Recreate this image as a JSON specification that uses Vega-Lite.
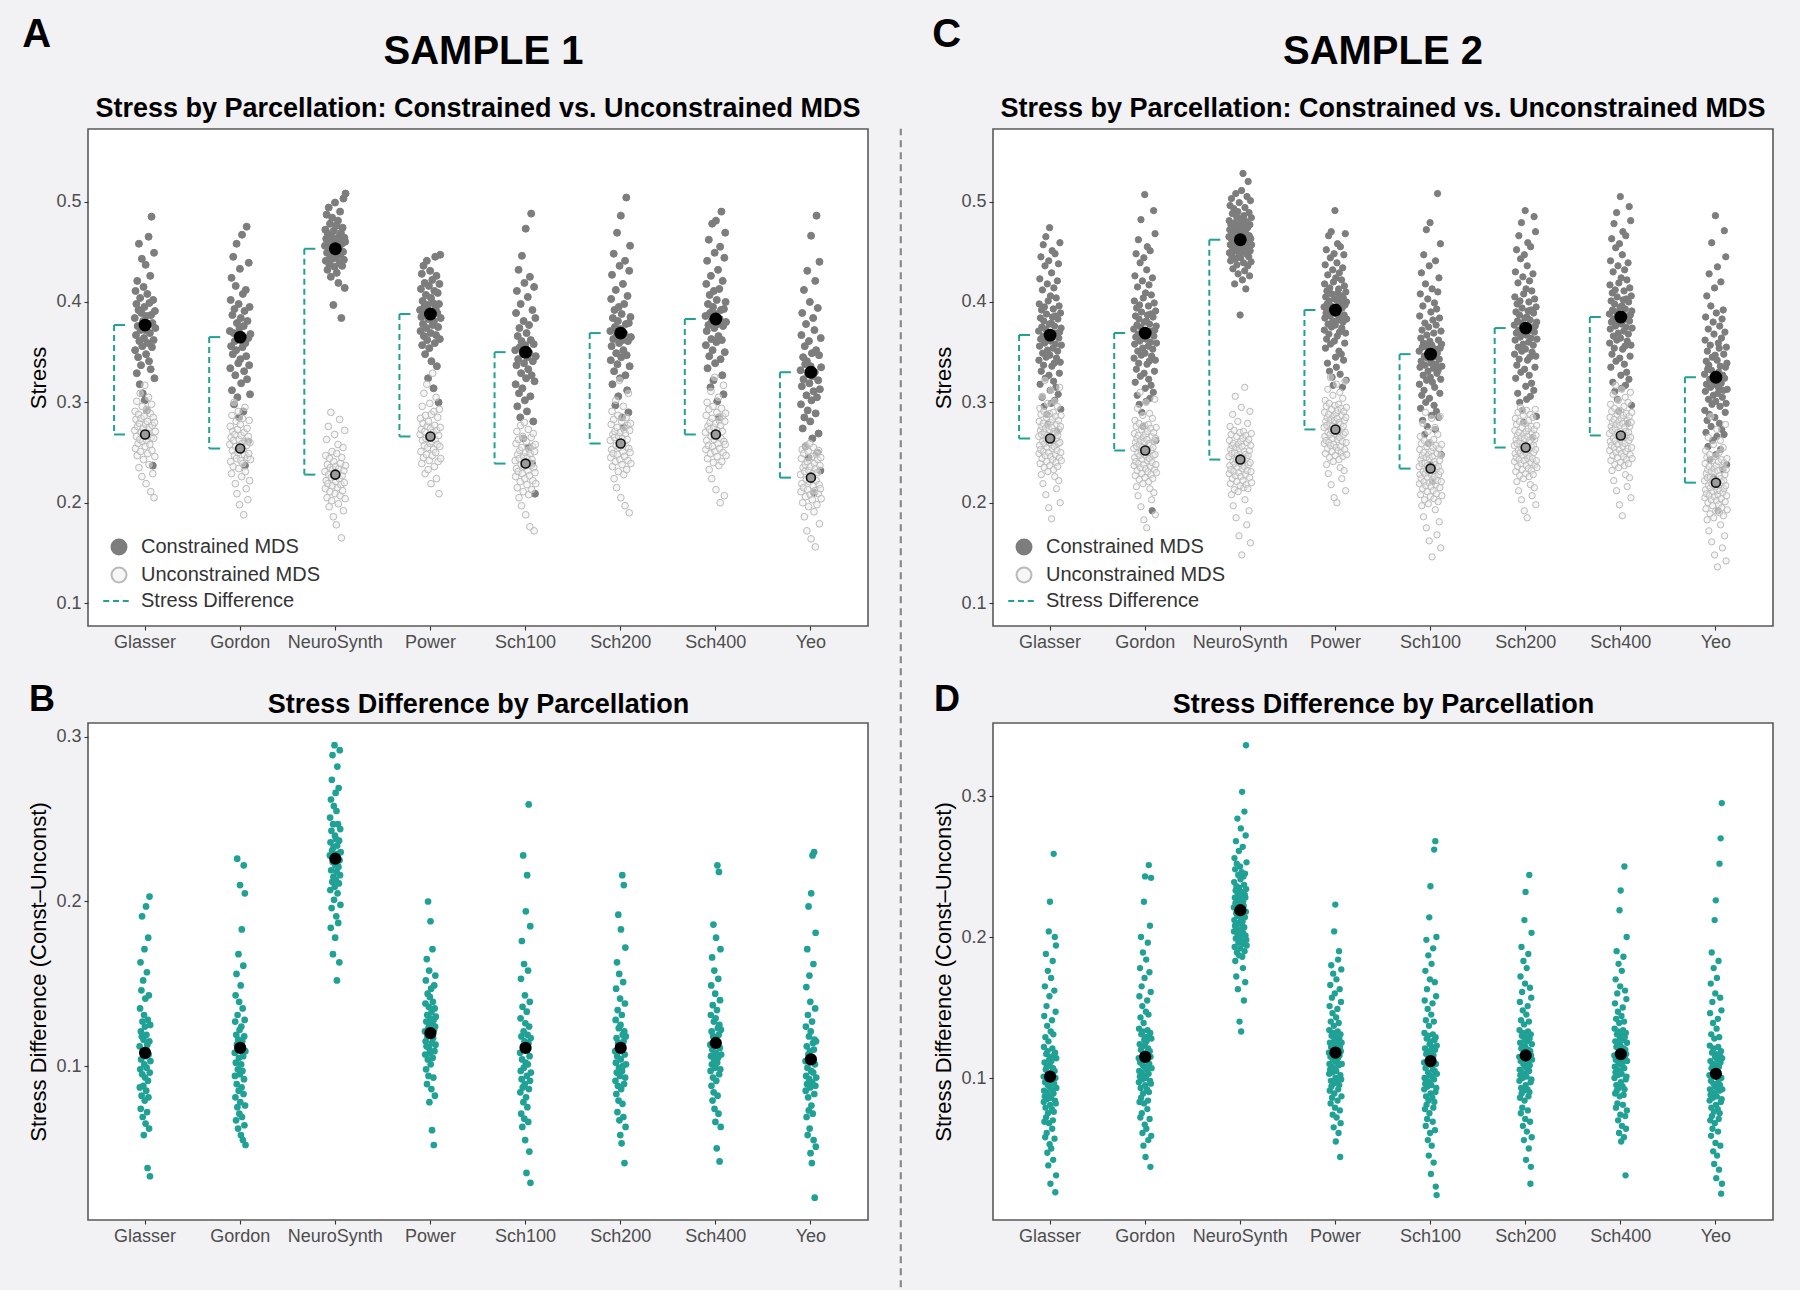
{
"$schema":"https://vega.github.io/schema/vega-lite/v6.json",
"background":"#f2f2f4",
"padding":{"left":22,"top":15,"right":32,"bottom":1},
"spacing":30,
"resolve":{"scale":{"x":"independent","y":"independent","fill":"independent","stroke":"independent","shape":"independent","xOffset":"independent"}},
"datasets":{
"m1":[{"p":"Glasser","mc":0.377,"mu":0.268,"md":0.108},{"p":"Gordon","mc":0.365,"mu":0.254,"md":0.111},{"p":"NeuroSynth","mc":0.453,"mu":0.228,"md":0.226},{"p":"Power","mc":0.388,"mu":0.266,"md":0.12},{"p":"Sch100","mc":0.35,"mu":0.239,"md":0.111},{"p":"Sch200","mc":0.369,"mu":0.259,"md":0.111},{"p":"Sch400","mc":0.383,"mu":0.268,"md":0.114},{"p":"Yeo","mc":0.33,"mu":0.225,"md":0.104}],
"m2":[{"p":"Glasser","mc":0.367,"mu":0.264,"md":0.101},{"p":"Gordon","mc":0.369,"mu":0.252,"md":0.115},{"p":"NeuroSynth","mc":0.462,"mu":0.243,"md":0.219},{"p":"Power","mc":0.392,"mu":0.273,"md":0.118},{"p":"Sch100","mc":0.348,"mu":0.234,"md":0.112},{"p":"Sch200","mc":0.374,"mu":0.255,"md":0.116},{"p":"Sch400","mc":0.385,"mu":0.267,"md":0.117},{"p":"Yeo","mc":0.325,"mu":0.22,"md":0.103}],
"s1":[
{"p":"Glasser","c":0.384,"u":0.272,"d":0.112},{"p":"Glasser","c":0.352,"u":0.291,"d":0.087},{"p":"Glasser","c":0.411,"u":0.254,"d":0.135},{"p":"Glasser","c":0.367,"u":0.283,"d":0.098},{"p":"Glasser","c":0.398,"u":0.266,"d":0.163},{"p":"Glasser","c":0.329,"u":0.301,"d":0.074},{"p":"Glasser","c":0.421,"u":0.247,"d":0.121},{"p":"Glasser","c":0.376,"u":0.276,"d":0.104},{"p":"Glasser","c":0.345,"u":0.259,"d":0.146},{"p":"Glasser","c":0.392,"u":0.288,"d":0.082},
{"p":"Glasser","c":0.458,"u":0.235,"d":0.118},{"p":"Glasser","c":0.361,"u":0.279,"d":0.191},{"p":"Glasser","c":0.318,"u":0.263,"d":0.095},{"p":"Glasser","c":0.404,"u":0.309,"d":0.127},{"p":"Glasser","c":0.372,"u":0.251,"d":0.069},{"p":"Glasser","c":0.337,"u":0.284,"d":0.109},{"p":"Glasser","c":0.389,"u":0.27,"d":0.152},{"p":"Glasser","c":0.443,"u":0.226,"d":0.088},{"p":"Glasser","c":0.356,"u":0.296,"d":0.116},{"p":"Glasser","c":0.309,"u":0.261,"d":0.058},
{"p":"Glasser","c":0.381,"u":0.274,"d":0.131},{"p":"Glasser","c":0.415,"u":0.243,"d":0.101},{"p":"Glasser","c":0.364,"u":0.286,"d":0.171},{"p":"Glasser","c":0.395,"u":0.267,"d":0.079},{"p":"Glasser","c":0.302,"u":0.317,"d":0.124},{"p":"Glasser","c":0.372,"u":0.256,"d":0.093},{"p":"Glasser","c":0.437,"u":0.278,"d":0.141},{"p":"Glasser","c":0.348,"u":0.219,"d":0.065},{"p":"Glasser","c":0.386,"u":0.293,"d":0.106},{"p":"Glasser","c":0.292,"u":0.262,"d":0.197},
{"p":"Glasser","c":0.408,"u":0.281,"d":0.085},{"p":"Glasser","c":0.359,"u":0.249,"d":0.119},{"p":"Glasser","c":0.377,"u":0.269,"d":0.099},{"p":"Glasser","c":0.465,"u":0.305,"d":0.157},{"p":"Glasser","c":0.341,"u":0.238,"d":0.072},{"p":"Glasser","c":0.399,"u":0.275,"d":0.113},{"p":"Glasser","c":0.369,"u":0.258,"d":0.038},{"p":"Glasser","c":0.426,"u":0.289,"d":0.128},{"p":"Glasser","c":0.333,"u":0.211,"d":0.091},{"p":"Glasser","c":0.387,"u":0.265,"d":0.178},
{"p":"Glasser","c":0.485,"u":0.298,"d":0.081},{"p":"Glasser","c":0.355,"u":0.252,"d":0.107},{"p":"Glasser","c":0.379,"u":0.277,"d":0.143},{"p":"Glasser","c":0.237,"u":0.229,"d":0.062},{"p":"Glasser","c":0.402,"u":0.285,"d":0.115},{"p":"Glasser","c":0.362,"u":0.264,"d":0.203},{"p":"Glasser","c":0.449,"u":0.205,"d":0.096},{"p":"Glasser","c":0.324,"u":0.28,"d":0.033},{"p":"Glasser","c":0.391,"u":0.246,"d":0.125},{"p":"Glasser","c":0.374,"u":0.271,"d":0.103},
{"p":"Gordon","c":0.371,"u":0.258,"d":0.108},{"p":"Gordon","c":0.334,"u":0.276,"d":0.094},{"p":"Gordon","c":0.402,"u":0.241,"d":0.127},{"p":"Gordon","c":0.356,"u":0.265,"d":0.081},{"p":"Gordon","c":0.424,"u":0.229,"d":0.143},{"p":"Gordon","c":0.312,"u":0.287,"d":0.102},{"p":"Gordon","c":0.387,"u":0.252,"d":0.067},{"p":"Gordon","c":0.348,"u":0.271,"d":0.119},{"p":"Gordon","c":0.445,"u":0.236,"d":0.156},{"p":"Gordon","c":0.369,"u":0.262,"d":0.089},
{"p":"Gordon","c":0.298,"u":0.3,"d":0.113},{"p":"Gordon","c":0.393,"u":0.247,"d":0.226},{"p":"Gordon","c":0.361,"u":0.268,"d":0.075},{"p":"Gordon","c":0.327,"u":0.219,"d":0.131},{"p":"Gordon","c":0.416,"u":0.256,"d":0.098},{"p":"Gordon","c":0.352,"u":0.281,"d":0.062},{"p":"Gordon","c":0.458,"u":0.244,"d":0.116},{"p":"Gordon","c":0.379,"u":0.209,"d":0.168},{"p":"Gordon","c":0.305,"u":0.273,"d":0.085},{"p":"Gordon","c":0.366,"u":0.25,"d":0.105},
{"p":"Gordon","c":0.339,"u":0.291,"d":0.139},{"p":"Gordon","c":0.398,"u":0.234,"d":0.071},{"p":"Gordon","c":0.285,"u":0.263,"d":0.122},{"p":"Gordon","c":0.374,"u":0.198,"d":0.095},{"p":"Gordon","c":0.433,"u":0.255,"d":0.21},{"p":"Gordon","c":0.343,"u":0.278,"d":0.078},{"p":"Gordon","c":0.384,"u":0.242,"d":0.111},{"p":"Gordon","c":0.319,"u":0.267,"d":0.149},{"p":"Gordon","c":0.362,"u":0.226,"d":0.058},{"p":"Gordon","c":0.467,"u":0.259,"d":0.101},
{"p":"Gordon","c":0.355,"u":0.284,"d":0.124},{"p":"Gordon","c":0.408,"u":0.239,"d":0.087},{"p":"Gordon","c":0.291,"u":0.253,"d":0.183},{"p":"Gordon","c":0.376,"u":0.188,"d":0.069},{"p":"Gordon","c":0.331,"u":0.27,"d":0.115},{"p":"Gordon","c":0.391,"u":0.248,"d":0.097},{"p":"Gordon","c":0.237,"u":0.295,"d":0.135},{"p":"Gordon","c":0.359,"u":0.231,"d":0.055},{"p":"Gordon","c":0.412,"u":0.261,"d":0.106},{"p":"Gordon","c":0.346,"u":0.214,"d":0.161},
{"p":"Gordon","c":0.475,"u":0.257,"d":0.083},{"p":"Gordon","c":0.323,"u":0.274,"d":0.222},{"p":"Gordon","c":0.381,"u":0.245,"d":0.092},{"p":"Gordon","c":0.261,"u":0.203,"d":0.118},{"p":"Gordon","c":0.364,"u":0.266,"d":0.064},{"p":"Gordon","c":0.439,"u":0.249,"d":0.128},{"p":"Gordon","c":0.337,"u":0.282,"d":0.205},{"p":"Gordon","c":0.395,"u":0.222,"d":0.076},{"p":"Gordon","c":0.308,"u":0.26,"d":0.109},{"p":"Gordon","c":0.368,"u":0.243,"d":0.052},
{"p":"NeuroSynth","c":0.456,"u":0.231,"d":0.228},{"p":"NeuroSynth","c":0.472,"u":0.214,"d":0.251},{"p":"NeuroSynth","c":0.441,"u":0.247,"d":0.207},{"p":"NeuroSynth","c":0.463,"u":0.222,"d":0.236},{"p":"NeuroSynth","c":0.487,"u":0.263,"d":0.184},{"p":"NeuroSynth","c":0.449,"u":0.205,"d":0.262},{"p":"NeuroSynth","c":0.432,"u":0.238,"d":0.219},{"p":"NeuroSynth","c":0.468,"u":0.219,"d":0.243},{"p":"NeuroSynth","c":0.455,"u":0.276,"d":0.196},{"p":"NeuroSynth","c":0.494,"u":0.228,"d":0.274},
{"p":"NeuroSynth","c":0.438,"u":0.196,"d":0.231},{"p":"NeuroSynth","c":0.461,"u":0.244,"d":0.212},{"p":"NeuroSynth","c":0.478,"u":0.211,"d":0.289},{"p":"NeuroSynth","c":0.446,"u":0.235,"d":0.224},{"p":"NeuroSynth","c":0.425,"u":0.29,"d":0.168},{"p":"NeuroSynth","c":0.466,"u":0.225,"d":0.247},{"p":"NeuroSynth","c":0.452,"u":0.202,"d":0.215},{"p":"NeuroSynth","c":0.484,"u":0.251,"d":0.233},{"p":"NeuroSynth","c":0.443,"u":0.217,"d":0.258},{"p":"NeuroSynth","c":0.459,"u":0.233,"d":0.201},
{"p":"NeuroSynth","c":0.397,"u":0.186,"d":0.227},{"p":"NeuroSynth","c":0.471,"u":0.241,"d":0.295},{"p":"NeuroSynth","c":0.448,"u":0.226,"d":0.209},{"p":"NeuroSynth","c":0.435,"u":0.268,"d":0.24},{"p":"NeuroSynth","c":0.499,"u":0.209,"d":0.178},{"p":"NeuroSynth","c":0.457,"u":0.236,"d":0.222},{"p":"NeuroSynth","c":0.444,"u":0.221,"d":0.266},{"p":"NeuroSynth","c":0.476,"u":0.178,"d":0.213},{"p":"NeuroSynth","c":0.429,"u":0.249,"d":0.238},{"p":"NeuroSynth","c":0.462,"u":0.229,"d":0.191},
{"p":"NeuroSynth","c":0.451,"u":0.215,"d":0.255},{"p":"NeuroSynth","c":0.481,"u":0.258,"d":0.218},{"p":"NeuroSynth","c":0.419,"u":0.199,"d":0.152},{"p":"NeuroSynth","c":0.465,"u":0.234,"d":0.234},{"p":"NeuroSynth","c":0.453,"u":0.224,"d":0.282},{"p":"NeuroSynth","c":0.439,"u":0.283,"d":0.205},{"p":"NeuroSynth","c":0.49,"u":0.207,"d":0.229},{"p":"NeuroSynth","c":0.447,"u":0.239,"d":0.247},{"p":"NeuroSynth","c":0.469,"u":0.218,"d":0.187},{"p":"NeuroSynth","c":0.384,"u":0.165,"d":0.221},
{"p":"NeuroSynth","c":0.458,"u":0.245,"d":0.269},{"p":"NeuroSynth","c":0.436,"u":0.227,"d":0.211},{"p":"NeuroSynth","c":0.474,"u":0.212,"d":0.237},{"p":"NeuroSynth","c":0.45,"u":0.255,"d":0.163},{"p":"NeuroSynth","c":0.503,"u":0.192,"d":0.225},{"p":"NeuroSynth","c":0.442,"u":0.232,"d":0.292},{"p":"NeuroSynth","c":0.464,"u":0.22,"d":0.216},{"p":"NeuroSynth","c":0.414,"u":0.272,"d":0.244},{"p":"NeuroSynth","c":0.46,"u":0.204,"d":0.198},{"p":"NeuroSynth","c":0.508,"u":0.237,"d":0.23},
{"p":"Power","c":0.392,"u":0.268,"d":0.121},{"p":"Power","c":0.371,"u":0.284,"d":0.107},{"p":"Power","c":0.413,"u":0.251,"d":0.138},{"p":"Power","c":0.385,"u":0.273,"d":0.115},{"p":"Power","c":0.428,"u":0.239,"d":0.152},{"p":"Power","c":0.357,"u":0.296,"d":0.098},{"p":"Power","c":0.401,"u":0.262,"d":0.127},{"p":"Power","c":0.378,"u":0.279,"d":0.112},{"p":"Power","c":0.436,"u":0.245,"d":0.165},{"p":"Power","c":0.366,"u":0.309,"d":0.089},
{"p":"Power","c":0.395,"u":0.257,"d":0.131},{"p":"Power","c":0.419,"u":0.271,"d":0.118},{"p":"Power","c":0.348,"u":0.229,"d":0.144},{"p":"Power","c":0.388,"u":0.287,"d":0.104},{"p":"Power","c":0.407,"u":0.264,"d":0.2},{"p":"Power","c":0.374,"u":0.248,"d":0.123},{"p":"Power","c":0.441,"u":0.318,"d":0.094},{"p":"Power","c":0.362,"u":0.276,"d":0.136},{"p":"Power","c":0.397,"u":0.255,"d":0.111},{"p":"Power","c":0.324,"u":0.233,"d":0.158},
{"p":"Power","c":0.383,"u":0.281,"d":0.078},{"p":"Power","c":0.416,"u":0.266,"d":0.125},{"p":"Power","c":0.354,"u":0.242,"d":0.142},{"p":"Power","c":0.39,"u":0.299,"d":0.108},{"p":"Power","c":0.431,"u":0.259,"d":0.129},{"p":"Power","c":0.369,"u":0.274,"d":0.188},{"p":"Power","c":0.404,"u":0.219,"d":0.101},{"p":"Power","c":0.341,"u":0.288,"d":0.119},{"p":"Power","c":0.386,"u":0.261,"d":0.147},{"p":"Power","c":0.422,"u":0.247,"d":0.086},
{"p":"Power","c":0.377,"u":0.329,"d":0.133},{"p":"Power","c":0.399,"u":0.27,"d":0.114},{"p":"Power","c":0.314,"u":0.253,"d":0.061},{"p":"Power","c":0.381,"u":0.291,"d":0.126},{"p":"Power","c":0.411,"u":0.236,"d":0.171},{"p":"Power","c":0.359,"u":0.277,"d":0.105},{"p":"Power","c":0.445,"u":0.263,"d":0.139},{"p":"Power","c":0.393,"u":0.25,"d":0.117},{"p":"Power","c":0.367,"u":0.305,"d":0.093},{"p":"Power","c":0.426,"u":0.224,"d":0.128},
{"p":"Power","c":0.336,"u":0.272,"d":0.052},{"p":"Power","c":0.389,"u":0.258,"d":0.122},{"p":"Power","c":0.409,"u":0.285,"d":0.149},{"p":"Power","c":0.375,"u":0.241,"d":0.109},{"p":"Power","c":0.3,"u":0.267,"d":0.135},{"p":"Power","c":0.398,"u":0.209,"d":0.082},{"p":"Power","c":0.418,"u":0.293,"d":0.124},{"p":"Power","c":0.363,"u":0.256,"d":0.155},{"p":"Power","c":0.447,"u":0.275,"d":0.113},{"p":"Power","c":0.384,"u":0.244,"d":0.13},
{"p":"Sch100","c":0.352,"u":0.242,"d":0.108},{"p":"Sch100","c":0.318,"u":0.226,"d":0.084},{"p":"Sch100","c":0.389,"u":0.259,"d":0.129},{"p":"Sch100","c":0.337,"u":0.234,"d":0.097},{"p":"Sch100","c":0.411,"u":0.271,"d":0.153},{"p":"Sch100","c":0.296,"u":0.215,"d":0.071},{"p":"Sch100","c":0.366,"u":0.248,"d":0.118},{"p":"Sch100","c":0.343,"u":0.231,"d":0.092},{"p":"Sch100","c":0.432,"u":0.263,"d":0.176},{"p":"Sch100","c":0.309,"u":0.205,"d":0.104},
{"p":"Sch100","c":0.374,"u":0.244,"d":0.063},{"p":"Sch100","c":0.355,"u":0.252,"d":0.136},{"p":"Sch100","c":0.285,"u":0.221,"d":0.087},{"p":"Sch100","c":0.398,"u":0.277,"d":0.112},{"p":"Sch100","c":0.329,"u":0.238,"d":0.228},{"p":"Sch100","c":0.361,"u":0.197,"d":0.078},{"p":"Sch100","c":0.446,"u":0.255,"d":0.121},{"p":"Sch100","c":0.314,"u":0.229,"d":0.099},{"p":"Sch100","c":0.348,"u":0.266,"d":0.162},{"p":"Sch100","c":0.264,"u":0.211,"d":0.068},
{"p":"Sch100","c":0.381,"u":0.246,"d":0.115},{"p":"Sch100","c":0.339,"u":0.236,"d":0.089},{"p":"Sch100","c":0.419,"u":0.28,"d":0.143},{"p":"Sch100","c":0.302,"u":0.224,"d":0.055},{"p":"Sch100","c":0.357,"u":0.25,"d":0.126},{"p":"Sch100","c":0.473,"u":0.188,"d":0.102},{"p":"Sch100","c":0.324,"u":0.24,"d":0.194},{"p":"Sch100","c":0.369,"u":0.261,"d":0.081},{"p":"Sch100","c":0.291,"u":0.218,"d":0.11},{"p":"Sch100","c":0.345,"u":0.245,"d":0.035},
{"p":"Sch100","c":0.405,"u":0.232,"d":0.133},{"p":"Sch100","c":0.333,"u":0.273,"d":0.094},{"p":"Sch100","c":0.255,"u":0.208,"d":0.216},{"p":"Sch100","c":0.377,"u":0.253,"d":0.075},{"p":"Sch100","c":0.349,"u":0.227,"d":0.119},{"p":"Sch100","c":0.425,"u":0.176,"d":0.101},{"p":"Sch100","c":0.306,"u":0.249,"d":0.158},{"p":"Sch100","c":0.362,"u":0.237,"d":0.066},{"p":"Sch100","c":0.488,"u":0.265,"d":0.114},{"p":"Sch100","c":0.327,"u":0.213,"d":0.259},
{"p":"Sch100","c":0.239,"u":0.243,"d":0.086},{"p":"Sch100","c":0.392,"u":0.256,"d":0.124},{"p":"Sch100","c":0.341,"u":0.222,"d":0.048},{"p":"Sch100","c":0.281,"u":0.269,"d":0.106},{"p":"Sch100","c":0.358,"u":0.235,"d":0.139},{"p":"Sch100","c":0.415,"u":0.172,"d":0.091},{"p":"Sch100","c":0.321,"u":0.251,"d":0.185},{"p":"Sch100","c":0.209,"u":0.23,"d":0.029},{"p":"Sch100","c":0.384,"u":0.258,"d":0.117},{"p":"Sch100","c":0.346,"u":0.219,"d":0.096},
{"p":"Sch200","c":0.371,"u":0.262,"d":0.109},{"p":"Sch200","c":0.342,"u":0.245,"d":0.091},{"p":"Sch200","c":0.403,"u":0.278,"d":0.128},{"p":"Sch200","c":0.356,"u":0.253,"d":0.102},{"p":"Sch200","c":0.427,"u":0.291,"d":0.147},{"p":"Sch200","c":0.318,"u":0.236,"d":0.083},{"p":"Sch200","c":0.384,"u":0.268,"d":0.117},{"p":"Sch200","c":0.363,"u":0.249,"d":0.096},{"p":"Sch200","c":0.448,"u":0.283,"d":0.163},{"p":"Sch200","c":0.331,"u":0.224,"d":0.106},
{"p":"Sch200","c":0.392,"u":0.265,"d":0.072},{"p":"Sch200","c":0.375,"u":0.271,"d":0.134},{"p":"Sch200","c":0.297,"u":0.241,"d":0.088},{"p":"Sch200","c":0.412,"u":0.302,"d":0.114},{"p":"Sch200","c":0.349,"u":0.257,"d":0.192},{"p":"Sch200","c":0.366,"u":0.215,"d":0.079},{"p":"Sch200","c":0.469,"u":0.275,"d":0.123},{"p":"Sch200","c":0.338,"u":0.248,"d":0.099},{"p":"Sch200","c":0.381,"u":0.287,"d":0.156},{"p":"Sch200","c":0.306,"u":0.231,"d":0.067},
{"p":"Sch200","c":0.395,"u":0.266,"d":0.112},{"p":"Sch200","c":0.359,"u":0.255,"d":0.094},{"p":"Sch200","c":0.436,"u":0.322,"d":0.141},{"p":"Sch200","c":0.324,"u":0.243,"d":0.058},{"p":"Sch200","c":0.373,"u":0.27,"d":0.125},{"p":"Sch200","c":0.486,"u":0.205,"d":0.104},{"p":"Sch200","c":0.345,"u":0.259,"d":0.183},{"p":"Sch200","c":0.388,"u":0.281,"d":0.086},{"p":"Sch200","c":0.285,"u":0.238,"d":0.11},{"p":"Sch200","c":0.362,"u":0.264,"d":0.053},
{"p":"Sch200","c":0.418,"u":0.251,"d":0.131},{"p":"Sch200","c":0.352,"u":0.296,"d":0.097},{"p":"Sch200","c":0.275,"u":0.228,"d":0.216},{"p":"Sch200","c":0.398,"u":0.273,"d":0.077},{"p":"Sch200","c":0.368,"u":0.246,"d":0.119},{"p":"Sch200","c":0.441,"u":0.197,"d":0.1},{"p":"Sch200","c":0.327,"u":0.269,"d":0.151},{"p":"Sch200","c":0.378,"u":0.256,"d":0.069},{"p":"Sch200","c":0.504,"u":0.285,"d":0.115},{"p":"Sch200","c":0.347,"u":0.233,"d":0.21},
{"p":"Sch200","c":0.312,"u":0.263,"d":0.089},{"p":"Sch200","c":0.406,"u":0.277,"d":0.121},{"p":"Sch200","c":0.361,"u":0.242,"d":0.041},{"p":"Sch200","c":0.29,"u":0.309,"d":0.107},{"p":"Sch200","c":0.379,"u":0.254,"d":0.138},{"p":"Sch200","c":0.431,"u":0.19,"d":0.093},{"p":"Sch200","c":0.336,"u":0.272,"d":0.172},{"p":"Sch200","c":0.456,"u":0.25,"d":0.063},{"p":"Sch200","c":0.385,"u":0.279,"d":0.118},{"p":"Sch200","c":0.365,"u":0.239,"d":0.101},
{"p":"Sch400","c":0.386,"u":0.27,"d":0.113},{"p":"Sch400","c":0.357,"u":0.253,"d":0.097},{"p":"Sch400","c":0.418,"u":0.287,"d":0.131},{"p":"Sch400","c":0.371,"u":0.262,"d":0.106},{"p":"Sch400","c":0.441,"u":0.3,"d":0.149},{"p":"Sch400","c":0.334,"u":0.244,"d":0.088},{"p":"Sch400","c":0.398,"u":0.276,"d":0.121},{"p":"Sch400","c":0.377,"u":0.257,"d":0.101},{"p":"Sch400","c":0.462,"u":0.293,"d":0.166},{"p":"Sch400","c":0.346,"u":0.233,"d":0.11},
{"p":"Sch400","c":0.407,"u":0.273,"d":0.079},{"p":"Sch400","c":0.389,"u":0.28,"d":0.137},{"p":"Sch400","c":0.315,"u":0.249,"d":0.093},{"p":"Sch400","c":0.426,"u":0.311,"d":0.118},{"p":"Sch400","c":0.363,"u":0.266,"d":0.186},{"p":"Sch400","c":0.381,"u":0.224,"d":0.084},{"p":"Sch400","c":0.478,"u":0.284,"d":0.127},{"p":"Sch400","c":0.352,"u":0.256,"d":0.104},{"p":"Sch400","c":0.395,"u":0.296,"d":0.158},{"p":"Sch400","c":0.322,"u":0.24,"d":0.074},
{"p":"Sch400","c":0.411,"u":0.275,"d":0.116},{"p":"Sch400","c":0.374,"u":0.263,"d":0.099},{"p":"Sch400","c":0.449,"u":0.325,"d":0.144},{"p":"Sch400","c":0.339,"u":0.251,"d":0.066},{"p":"Sch400","c":0.388,"u":0.279,"d":0.129},{"p":"Sch400","c":0.481,"u":0.213,"d":0.108},{"p":"Sch400","c":0.36,"u":0.268,"d":0.178},{"p":"Sch400","c":0.402,"u":0.29,"d":0.091},{"p":"Sch400","c":0.301,"u":0.246,"d":0.115},{"p":"Sch400","c":0.378,"u":0.272,"d":0.05},
{"p":"Sch400","c":0.432,"u":0.259,"d":0.134},{"p":"Sch400","c":0.366,"u":0.305,"d":0.102},{"p":"Sch400","c":0.285,"u":0.237,"d":0.222},{"p":"Sch400","c":0.413,"u":0.282,"d":0.082},{"p":"Sch400","c":0.383,"u":0.254,"d":0.123},{"p":"Sch400","c":0.455,"u":0.2,"d":0.105},{"p":"Sch400","c":0.343,"u":0.277,"d":0.153},{"p":"Sch400","c":0.392,"u":0.264,"d":0.071},{"p":"Sch400","c":0.49,"u":0.294,"d":0.119},{"p":"Sch400","c":0.362,"u":0.241,"d":0.218},
{"p":"Sch400","c":0.327,"u":0.271,"d":0.095},{"p":"Sch400","c":0.421,"u":0.286,"d":0.125},{"p":"Sch400","c":0.376,"u":0.25,"d":0.042},{"p":"Sch400","c":0.308,"u":0.317,"d":0.111},{"p":"Sch400","c":0.393,"u":0.261,"d":0.14},{"p":"Sch400","c":0.444,"u":0.207,"d":0.098},{"p":"Sch400","c":0.35,"u":0.281,"d":0.171},{"p":"Sch400","c":0.469,"u":0.258,"d":0.063},{"p":"Sch400","c":0.4,"u":0.289,"d":0.122},{"p":"Sch400","c":0.38,"u":0.247,"d":0.107},
{"p":"Yeo","c":0.332,"u":0.228,"d":0.103},{"p":"Yeo","c":0.298,"u":0.211,"d":0.085},{"p":"Yeo","c":0.367,"u":0.244,"d":0.124},{"p":"Yeo","c":0.316,"u":0.219,"d":0.094},{"p":"Yeo","c":0.389,"u":0.253,"d":0.148},{"p":"Yeo","c":0.274,"u":0.2,"d":0.069},{"p":"Yeo","c":0.345,"u":0.235,"d":0.112},{"p":"Yeo","c":0.323,"u":0.215,"d":0.089},{"p":"Yeo","c":0.412,"u":0.249,"d":0.171},{"p":"Yeo","c":0.285,"u":0.186,"d":0.099},
{"p":"Yeo","c":0.356,"u":0.231,"d":0.058},{"p":"Yeo","c":0.338,"u":0.238,"d":0.131},{"p":"Yeo","c":0.256,"u":0.206,"d":0.081},{"p":"Yeo","c":0.378,"u":0.257,"d":0.107},{"p":"Yeo","c":0.307,"u":0.223,"d":0.197},{"p":"Yeo","c":0.341,"u":0.172,"d":0.073},{"p":"Yeo","c":0.431,"u":0.241,"d":0.118},{"p":"Yeo","c":0.292,"u":0.213,"d":0.092},{"p":"Yeo","c":0.328,"u":0.251,"d":0.155},{"p":"Yeo","c":0.245,"u":0.196,"d":0.062},
{"p":"Yeo","c":0.361,"u":0.232,"d":0.109},{"p":"Yeo","c":0.319,"u":0.221,"d":0.087},{"p":"Yeo","c":0.4,"u":0.259,"d":0.139},{"p":"Yeo","c":0.281,"u":0.208,"d":0.047},{"p":"Yeo","c":0.336,"u":0.236,"d":0.121},{"p":"Yeo","c":0.466,"u":0.164,"d":0.097},{"p":"Yeo","c":0.302,"u":0.226,"d":0.205},{"p":"Yeo","c":0.349,"u":0.246,"d":0.076},{"p":"Yeo","c":0.264,"u":0.203,"d":0.105},{"p":"Yeo","c":0.326,"u":0.229,"d":0.041},
{"p":"Yeo","c":0.384,"u":0.217,"d":0.127},{"p":"Yeo","c":0.311,"u":0.255,"d":0.09},{"p":"Yeo","c":0.21,"u":0.191,"d":0.228},{"p":"Yeo","c":0.372,"u":0.239,"d":0.071},{"p":"Yeo","c":0.33,"u":0.212,"d":0.114},{"p":"Yeo","c":0.421,"u":0.156,"d":0.096},{"p":"Yeo","c":0.289,"u":0.234,"d":0.162},{"p":"Yeo","c":0.352,"u":0.222,"d":0.055},{"p":"Yeo","c":0.486,"u":0.248,"d":0.11},{"p":"Yeo","c":0.305,"u":0.198,"d":0.23},
{"p":"Yeo","c":0.25,"u":0.23,"d":0.083},{"p":"Yeo","c":0.394,"u":0.243,"d":0.116},{"p":"Yeo","c":0.322,"u":0.209,"d":0.02},{"p":"Yeo","c":0.269,"u":0.252,"d":0.101},{"p":"Yeo","c":0.347,"u":0.218,"d":0.135},{"p":"Yeo","c":0.44,"u":0.179,"d":0.088},{"p":"Yeo","c":0.313,"u":0.237,"d":0.181},{"p":"Yeo","c":0.232,"u":0.214,"d":0.051},{"p":"Yeo","c":0.364,"u":0.245,"d":0.115},{"p":"Yeo","c":0.335,"u":0.204,"d":0.093}
],
"s2":[
{"p":"Glasser","c":0.371,"u":0.266,"d":0.101},{"p":"Glasser","c":0.342,"u":0.249,"d":0.083},{"p":"Glasser","c":0.398,"u":0.281,"d":0.122},{"p":"Glasser","c":0.356,"u":0.257,"d":0.091},{"p":"Glasser","c":0.423,"u":0.294,"d":0.144},{"p":"Glasser","c":0.318,"u":0.239,"d":0.069},{"p":"Glasser","c":0.384,"u":0.272,"d":0.111},{"p":"Glasser","c":0.363,"u":0.253,"d":0.087},{"p":"Glasser","c":0.445,"u":0.288,"d":0.165},{"p":"Glasser","c":0.331,"u":0.228,"d":0.097},
{"p":"Glasser","c":0.392,"u":0.268,"d":0.058},{"p":"Glasser","c":0.375,"u":0.276,"d":0.129},{"p":"Glasser","c":0.305,"u":0.244,"d":0.079},{"p":"Glasser","c":0.412,"u":0.306,"d":0.106},{"p":"Glasser","c":0.349,"u":0.261,"d":0.188},{"p":"Glasser","c":0.366,"u":0.219,"d":0.072},{"p":"Glasser","c":0.457,"u":0.279,"d":0.117},{"p":"Glasser","c":0.337,"u":0.251,"d":0.09},{"p":"Glasser","c":0.381,"u":0.291,"d":0.151},{"p":"Glasser","c":0.296,"u":0.235,"d":0.061},
{"p":"Glasser","c":0.395,"u":0.27,"d":0.108},{"p":"Glasser","c":0.359,"u":0.259,"d":0.085},{"p":"Glasser","c":0.436,"u":0.322,"d":0.137},{"p":"Glasser","c":0.324,"u":0.247,"d":0.047},{"p":"Glasser","c":0.373,"u":0.274,"d":0.119},{"p":"Glasser","c":0.465,"u":0.208,"d":0.095},{"p":"Glasser","c":0.345,"u":0.263,"d":0.176},{"p":"Glasser","c":0.388,"u":0.285,"d":0.075},{"p":"Glasser","c":0.288,"u":0.241,"d":0.103},{"p":"Glasser","c":0.362,"u":0.267,"d":0.038},
{"p":"Glasser","c":0.418,"u":0.255,"d":0.126},{"p":"Glasser","c":0.352,"u":0.299,"d":0.088},{"p":"Glasser","c":0.278,"u":0.231,"d":0.204},{"p":"Glasser","c":0.401,"u":0.277,"d":0.068},{"p":"Glasser","c":0.368,"u":0.25,"d":0.113},{"p":"Glasser","c":0.441,"u":0.195,"d":0.094},{"p":"Glasser","c":0.327,"u":0.273,"d":0.158},{"p":"Glasser","c":0.378,"u":0.26,"d":0.053},{"p":"Glasser","c":0.474,"u":0.289,"d":0.109},{"p":"Glasser","c":0.347,"u":0.237,"d":0.225},
{"p":"Glasser","c":0.312,"u":0.265,"d":0.081},{"p":"Glasser","c":0.406,"u":0.28,"d":0.115},{"p":"Glasser","c":0.361,"u":0.246,"d":0.025},{"p":"Glasser","c":0.299,"u":0.312,"d":0.099},{"p":"Glasser","c":0.379,"u":0.258,"d":0.133},{"p":"Glasser","c":0.429,"u":0.184,"d":0.086},{"p":"Glasser","c":0.336,"u":0.275,"d":0.171},{"p":"Glasser","c":0.451,"u":0.254,"d":0.05},{"p":"Glasser","c":0.385,"u":0.283,"d":0.112},{"p":"Glasser","c":0.365,"u":0.243,"d":0.092},
{"p":"Glasser","c":0.354,"u":0.262,"d":0.104},{"p":"Glasser","c":0.393,"u":0.29,"d":0.078},{"p":"Glasser","c":0.321,"u":0.233,"d":0.141},{"p":"Glasser","c":0.414,"u":0.271,"d":0.064},{"p":"Glasser","c":0.339,"u":0.256,"d":0.121},{"p":"Glasser","c":0.376,"u":0.301,"d":0.098},{"p":"Glasser","c":0.302,"u":0.226,"d":0.183},{"p":"Glasser","c":0.448,"u":0.269,"d":0.07},{"p":"Glasser","c":0.358,"u":0.248,"d":0.107},{"p":"Glasser","c":0.386,"u":0.286,"d":0.042},
{"p":"Glasser","c":0.315,"u":0.24,"d":0.131},{"p":"Glasser","c":0.404,"u":0.264,"d":0.089},{"p":"Glasser","c":0.344,"u":0.214,"d":0.259},{"p":"Glasser","c":0.369,"u":0.278,"d":0.076},{"p":"Glasser","c":0.271,"u":0.252,"d":0.116},{"p":"Glasser","c":0.421,"u":0.296,"d":0.096},{"p":"Glasser","c":0.351,"u":0.236,"d":0.162},{"p":"Glasser","c":0.383,"u":0.267,"d":0.057},{"p":"Glasser","c":0.308,"u":0.259,"d":0.105},{"p":"Glasser","c":0.438,"u":0.282,"d":0.2},
{"p":"Glasser","c":0.364,"u":0.222,"d":0.084},{"p":"Glasser","c":0.396,"u":0.273,"d":0.118},{"p":"Glasser","c":0.329,"u":0.245,"d":0.019},{"p":"Glasser","c":0.37,"u":0.315,"d":0.1},{"p":"Glasser","c":0.459,"u":0.26,"d":0.147},{"p":"Glasser","c":0.34,"u":0.2,"d":0.082},{"p":"Glasser","c":0.389,"u":0.276,"d":0.194},{"p":"Glasser","c":0.293,"u":0.25,"d":0.031},{"p":"Glasser","c":0.374,"u":0.287,"d":0.114},{"p":"Glasser","c":0.357,"u":0.242,"d":0.093},
{"p":"Gordon","c":0.373,"u":0.254,"d":0.114},{"p":"Gordon","c":0.344,"u":0.237,"d":0.097},{"p":"Gordon","c":0.401,"u":0.269,"d":0.135},{"p":"Gordon","c":0.358,"u":0.245,"d":0.105},{"p":"Gordon","c":0.426,"u":0.282,"d":0.158},{"p":"Gordon","c":0.32,"u":0.227,"d":0.083},{"p":"Gordon","c":0.386,"u":0.26,"d":0.124},{"p":"Gordon","c":0.365,"u":0.241,"d":0.101},{"p":"Gordon","c":0.448,"u":0.276,"d":0.178},{"p":"Gordon","c":0.333,"u":0.216,"d":0.111},
{"p":"Gordon","c":0.394,"u":0.256,"d":0.072},{"p":"Gordon","c":0.377,"u":0.264,"d":0.143},{"p":"Gordon","c":0.307,"u":0.232,"d":0.093},{"p":"Gordon","c":0.415,"u":0.294,"d":0.12},{"p":"Gordon","c":0.351,"u":0.249,"d":0.2},{"p":"Gordon","c":0.368,"u":0.207,"d":0.086},{"p":"Gordon","c":0.462,"u":0.267,"d":0.131},{"p":"Gordon","c":0.339,"u":0.239,"d":0.104},{"p":"Gordon","c":0.383,"u":0.279,"d":0.165},{"p":"Gordon","c":0.298,"u":0.223,"d":0.075},
{"p":"Gordon","c":0.397,"u":0.258,"d":0.122},{"p":"Gordon","c":0.361,"u":0.247,"d":0.099},{"p":"Gordon","c":0.439,"u":0.31,"d":0.151},{"p":"Gordon","c":0.326,"u":0.235,"d":0.061},{"p":"Gordon","c":0.375,"u":0.262,"d":0.133},{"p":"Gordon","c":0.482,"u":0.196,"d":0.109},{"p":"Gordon","c":0.347,"u":0.251,"d":0.189},{"p":"Gordon","c":0.39,"u":0.273,"d":0.089},{"p":"Gordon","c":0.29,"u":0.229,"d":0.117},{"p":"Gordon","c":0.364,"u":0.255,"d":0.052},
{"p":"Gordon","c":0.421,"u":0.243,"d":0.139},{"p":"Gordon","c":0.354,"u":0.287,"d":0.102},{"p":"Gordon","c":0.276,"u":0.219,"d":0.225},{"p":"Gordon","c":0.404,"u":0.265,"d":0.082},{"p":"Gordon","c":0.37,"u":0.238,"d":0.127},{"p":"Gordon","c":0.444,"u":0.183,"d":0.108},{"p":"Gordon","c":0.329,"u":0.261,"d":0.171},{"p":"Gordon","c":0.38,"u":0.248,"d":0.067},{"p":"Gordon","c":0.507,"u":0.277,"d":0.123},{"p":"Gordon","c":0.349,"u":0.225,"d":0.243},
{"p":"Gordon","c":0.314,"u":0.253,"d":0.095},{"p":"Gordon","c":0.409,"u":0.268,"d":0.129},{"p":"Gordon","c":0.363,"u":0.234,"d":0.044},{"p":"Gordon","c":0.301,"u":0.3,"d":0.113},{"p":"Gordon","c":0.381,"u":0.246,"d":0.147},{"p":"Gordon","c":0.432,"u":0.175,"d":0.1},{"p":"Gordon","c":0.338,"u":0.263,"d":0.184},{"p":"Gordon","c":0.455,"u":0.242,"d":0.064},{"p":"Gordon","c":0.387,"u":0.271,"d":0.126},{"p":"Gordon","c":0.367,"u":0.231,"d":0.106},
{"p":"Gordon","c":0.356,"u":0.25,"d":0.118},{"p":"Gordon","c":0.396,"u":0.278,"d":0.092},{"p":"Gordon","c":0.323,"u":0.221,"d":0.155},{"p":"Gordon","c":0.417,"u":0.259,"d":0.078},{"p":"Gordon","c":0.341,"u":0.244,"d":0.134},{"p":"Gordon","c":0.378,"u":0.289,"d":0.112},{"p":"Gordon","c":0.304,"u":0.214,"d":0.196},{"p":"Gordon","c":0.451,"u":0.257,"d":0.084},{"p":"Gordon","c":0.36,"u":0.236,"d":0.121},{"p":"Gordon","c":0.388,"u":0.274,"d":0.056},
{"p":"Gordon","c":0.317,"u":0.228,"d":0.145},{"p":"Gordon","c":0.407,"u":0.252,"d":0.103},{"p":"Gordon","c":0.346,"u":0.203,"d":0.251},{"p":"Gordon","c":0.371,"u":0.266,"d":0.09},{"p":"Gordon","c":0.192,"u":0.24,"d":0.13},{"p":"Gordon","c":0.424,"u":0.284,"d":0.11},{"p":"Gordon","c":0.353,"u":0.224,"d":0.175},{"p":"Gordon","c":0.385,"u":0.255,"d":0.071},{"p":"Gordon","c":0.31,"u":0.247,"d":0.119},{"p":"Gordon","c":0.491,"u":0.27,"d":0.208},
{"p":"Gordon","c":0.366,"u":0.21,"d":0.098},{"p":"Gordon","c":0.399,"u":0.261,"d":0.132},{"p":"Gordon","c":0.331,"u":0.233,"d":0.037},{"p":"Gordon","c":0.372,"u":0.303,"d":0.115},{"p":"Gordon","c":0.468,"u":0.248,"d":0.161},{"p":"Gordon","c":0.342,"u":0.188,"d":0.096},{"p":"Gordon","c":0.391,"u":0.264,"d":0.242},{"p":"Gordon","c":0.262,"u":0.238,"d":0.059},{"p":"Gordon","c":0.376,"u":0.275,"d":0.128},{"p":"Gordon","c":0.359,"u":0.23,"d":0.107},
{"p":"NeuroSynth","c":0.465,"u":0.246,"d":0.221},{"p":"NeuroSynth","c":0.481,"u":0.229,"d":0.204},{"p":"NeuroSynth","c":0.449,"u":0.262,"d":0.239},{"p":"NeuroSynth","c":0.472,"u":0.237,"d":0.212},{"p":"NeuroSynth","c":0.496,"u":0.276,"d":0.256},{"p":"NeuroSynth","c":0.457,"u":0.219,"d":0.193},{"p":"NeuroSynth","c":0.441,"u":0.253,"d":0.228},{"p":"NeuroSynth","c":0.477,"u":0.233,"d":0.208},{"p":"NeuroSynth","c":0.463,"u":0.268,"d":0.248},{"p":"NeuroSynth","c":0.503,"u":0.208,"d":0.183},
{"p":"NeuroSynth","c":0.446,"u":0.249,"d":0.224},{"p":"NeuroSynth","c":0.469,"u":0.257,"d":0.233},{"p":"NeuroSynth","c":0.488,"u":0.224,"d":0.199},{"p":"NeuroSynth","c":0.454,"u":0.288,"d":0.268},{"p":"NeuroSynth","c":0.433,"u":0.241,"d":0.217},{"p":"NeuroSynth","c":0.474,"u":0.197,"d":0.172},{"p":"NeuroSynth","c":0.46,"u":0.259,"d":0.236},{"p":"NeuroSynth","c":0.493,"u":0.231,"d":0.206},{"p":"NeuroSynth","c":0.451,"u":0.272,"d":0.252},{"p":"NeuroSynth","c":0.467,"u":0.213,"d":0.189},
{"p":"NeuroSynth","c":0.418,"u":0.25,"d":0.226},{"p":"NeuroSynth","c":0.479,"u":0.239,"d":0.215},{"p":"NeuroSynth","c":0.456,"u":0.306,"d":0.284},{"p":"NeuroSynth","c":0.443,"u":0.227,"d":0.202},{"p":"NeuroSynth","c":0.508,"u":0.255,"d":0.231},{"p":"NeuroSynth","c":0.466,"u":0.185,"d":0.163},{"p":"NeuroSynth","c":0.452,"u":0.243,"d":0.219},{"p":"NeuroSynth","c":0.485,"u":0.266,"d":0.244},{"p":"NeuroSynth","c":0.437,"u":0.221,"d":0.196},{"p":"NeuroSynth","c":0.47,"u":0.247,"d":0.223},
{"p":"NeuroSynth","c":0.459,"u":0.235,"d":0.21},{"p":"NeuroSynth","c":0.49,"u":0.281,"d":0.261},{"p":"NeuroSynth","c":0.428,"u":0.211,"d":0.187},{"p":"NeuroSynth","c":0.473,"u":0.258,"d":0.235},{"p":"NeuroSynth","c":0.461,"u":0.23,"d":0.205},{"p":"NeuroSynth","c":0.447,"u":0.167,"d":0.14},{"p":"NeuroSynth","c":0.499,"u":0.254,"d":0.229},{"p":"NeuroSynth","c":0.455,"u":0.24,"d":0.216},{"p":"NeuroSynth","c":0.478,"u":0.27,"d":0.25},{"p":"NeuroSynth","c":0.387,"u":0.217,"d":0.192},
{"p":"NeuroSynth","c":0.467,"u":0.245,"d":0.22},{"p":"NeuroSynth","c":0.444,"u":0.261,"d":0.241},{"p":"NeuroSynth","c":0.483,"u":0.226,"d":0.2},{"p":"NeuroSynth","c":0.458,"u":0.295,"d":0.277},{"p":"NeuroSynth","c":0.511,"u":0.238,"d":0.213},{"p":"NeuroSynth","c":0.45,"u":0.148,"d":0.133},{"p":"NeuroSynth","c":0.471,"u":0.256,"d":0.232},{"p":"NeuroSynth","c":0.422,"u":0.234,"d":0.209},{"p":"NeuroSynth","c":0.468,"u":0.264,"d":0.246},{"p":"NeuroSynth","c":0.528,"u":0.222,"d":0.197},
{"p":"NeuroSynth","c":0.462,"u":0.242,"d":0.218},{"p":"NeuroSynth","c":0.439,"u":0.271,"d":0.303},{"p":"NeuroSynth","c":0.486,"u":0.215,"d":0.186},{"p":"NeuroSynth","c":0.453,"u":0.251,"d":0.227},{"p":"NeuroSynth","c":0.476,"u":0.236,"d":0.211},{"p":"NeuroSynth","c":0.431,"u":0.315,"d":0.264},{"p":"NeuroSynth","c":0.494,"u":0.203,"d":0.178},{"p":"NeuroSynth","c":0.458,"u":0.248,"d":0.225},{"p":"NeuroSynth","c":0.469,"u":0.228,"d":0.203},{"p":"NeuroSynth","c":0.413,"u":0.267,"d":0.243},
{"p":"NeuroSynth","c":0.48,"u":0.218,"d":0.195},{"p":"NeuroSynth","c":0.448,"u":0.244,"d":0.222},{"p":"NeuroSynth","c":0.464,"u":0.178,"d":0.155},{"p":"NeuroSynth","c":0.505,"u":0.26,"d":0.237},{"p":"NeuroSynth","c":0.455,"u":0.232,"d":0.207},{"p":"NeuroSynth","c":0.474,"u":0.279,"d":0.289},{"p":"NeuroSynth","c":0.436,"u":0.214,"d":0.19},{"p":"NeuroSynth","c":0.52,"u":0.247,"d":0.23},{"p":"NeuroSynth","c":0.46,"u":0.238,"d":0.214},{"p":"NeuroSynth","c":0.445,"u":0.263,"d":0.245},
{"p":"NeuroSynth","c":0.489,"u":0.192,"d":0.168},{"p":"NeuroSynth","c":0.466,"u":0.252,"d":0.228},{"p":"NeuroSynth","c":0.426,"u":0.225,"d":0.201},{"p":"NeuroSynth","c":0.477,"u":0.291,"d":0.272},{"p":"NeuroSynth","c":0.451,"u":0.24,"d":0.218},{"p":"NeuroSynth","c":0.501,"u":0.16,"d":0.336},{"p":"NeuroSynth","c":0.463,"u":0.257,"d":0.234},{"p":"NeuroSynth","c":0.44,"u":0.231,"d":0.198},{"p":"NeuroSynth","c":0.484,"u":0.269,"d":0.253},{"p":"NeuroSynth","c":0.457,"u":0.22,"d":0.194},
{"p":"Power","c":0.395,"u":0.275,"d":0.118},{"p":"Power","c":0.372,"u":0.259,"d":0.103},{"p":"Power","c":0.418,"u":0.29,"d":0.134},{"p":"Power","c":0.384,"u":0.266,"d":0.11},{"p":"Power","c":0.437,"u":0.302,"d":0.151},{"p":"Power","c":0.354,"u":0.249,"d":0.091},{"p":"Power","c":0.405,"u":0.281,"d":0.125},{"p":"Power","c":0.389,"u":0.262,"d":0.106},{"p":"Power","c":0.452,"u":0.296,"d":0.166},{"p":"Power","c":0.363,"u":0.238,"d":0.115},
{"p":"Power","c":0.411,"u":0.277,"d":0.082},{"p":"Power","c":0.398,"u":0.285,"d":0.14},{"p":"Power","c":0.339,"u":0.254,"d":0.098},{"p":"Power","c":0.427,"u":0.313,"d":0.122},{"p":"Power","c":0.378,"u":0.27,"d":0.18},{"p":"Power","c":0.392,"u":0.229,"d":0.094},{"p":"Power","c":0.466,"u":0.288,"d":0.13},{"p":"Power","c":0.368,"u":0.26,"d":0.108},{"p":"Power","c":0.401,"u":0.299,"d":0.157},{"p":"Power","c":0.331,"u":0.245,"d":0.086},
{"p":"Power","c":0.414,"u":0.279,"d":0.121},{"p":"Power","c":0.386,"u":0.268,"d":0.104},{"p":"Power","c":0.444,"u":0.325,"d":0.146},{"p":"Power","c":0.358,"u":0.257,"d":0.074},{"p":"Power","c":0.396,"u":0.283,"d":0.132},{"p":"Power","c":0.47,"u":0.218,"d":0.113},{"p":"Power","c":0.375,"u":0.272,"d":0.174},{"p":"Power","c":0.408,"u":0.293,"d":0.096},{"p":"Power","c":0.325,"u":0.251,"d":0.119},{"p":"Power","c":0.39,"u":0.276,"d":0.065},
{"p":"Power","c":0.432,"u":0.264,"d":0.137},{"p":"Power","c":0.381,"u":0.307,"d":0.107},{"p":"Power","c":0.317,"u":0.241,"d":0.204},{"p":"Power","c":0.42,"u":0.286,"d":0.089},{"p":"Power","c":0.393,"u":0.258,"d":0.127},{"p":"Power","c":0.448,"u":0.205,"d":0.112},{"p":"Power","c":0.361,"u":0.282,"d":0.16},{"p":"Power","c":0.403,"u":0.269,"d":0.079},{"p":"Power","c":0.491,"u":0.297,"d":0.123},{"p":"Power","c":0.377,"u":0.247,"d":0.223},
{"p":"Power","c":0.345,"u":0.274,"d":0.1},{"p":"Power","c":0.424,"u":0.289,"d":0.129},{"p":"Power","c":0.388,"u":0.255,"d":0.055},{"p":"Power","c":0.335,"u":0.318,"d":0.117},{"p":"Power","c":0.402,"u":0.267,"d":0.143},{"p":"Power","c":0.439,"u":0.2,"d":0.105},{"p":"Power","c":0.366,"u":0.284,"d":0.17},{"p":"Power","c":0.458,"u":0.263,"d":0.072},{"p":"Power","c":0.409,"u":0.292,"d":0.126},{"p":"Power","c":0.391,"u":0.252,"d":0.111},
{"p":"Power","c":0.382,"u":0.271,"d":0.12},{"p":"Power","c":0.413,"u":0.298,"d":0.097},{"p":"Power","c":0.351,"u":0.243,"d":0.149},{"p":"Power","c":0.429,"u":0.28,"d":0.084},{"p":"Power","c":0.37,"u":0.265,"d":0.133},{"p":"Power","c":0.399,"u":0.31,"d":0.114},{"p":"Power","c":0.328,"u":0.235,"d":0.184},{"p":"Power","c":0.455,"u":0.278,"d":0.092},{"p":"Power","c":0.385,"u":0.256,"d":0.124},{"p":"Power","c":0.406,"u":0.294,"d":0.061},
{"p":"Power","c":0.348,"u":0.25,"d":0.139},{"p":"Power","c":0.422,"u":0.273,"d":0.109},{"p":"Power","c":0.374,"u":0.224,"d":0.19},{"p":"Power","c":0.394,"u":0.287,"d":0.095},{"p":"Power","c":0.315,"u":0.261,"d":0.128},{"p":"Power","c":0.434,"u":0.304,"d":0.116},{"p":"Power","c":0.38,"u":0.246,"d":0.163},{"p":"Power","c":0.404,"u":0.276,"d":0.077},{"p":"Power","c":0.342,"u":0.268,"d":0.122},{"p":"Power","c":0.447,"u":0.291,"d":0.044},
{"p":"Power","c":0.387,"u":0.232,"d":0.102},{"p":"Power","c":0.416,"u":0.282,"d":0.131},{"p":"Power","c":0.359,"u":0.253,"d":0.068},{"p":"Power","c":0.397,"u":0.321,"d":0.119},{"p":"Power","c":0.468,"u":0.27,"d":0.154},{"p":"Power","c":0.369,"u":0.212,"d":0.099},{"p":"Power","c":0.41,"u":0.285,"d":0.177},{"p":"Power","c":0.322,"u":0.26,"d":0.087},{"p":"Power","c":0.4,"u":0.295,"d":0.125},{"p":"Power","c":0.383,"u":0.248,"d":0.11},
{"p":"Sch100","c":0.351,"u":0.236,"d":0.111},{"p":"Sch100","c":0.318,"u":0.219,"d":0.092},{"p":"Sch100","c":0.386,"u":0.253,"d":0.132},{"p":"Sch100","c":0.335,"u":0.228,"d":0.1},{"p":"Sch100","c":0.408,"u":0.266,"d":0.155},{"p":"Sch100","c":0.294,"u":0.208,"d":0.078},{"p":"Sch100","c":0.364,"u":0.243,"d":0.121},{"p":"Sch100","c":0.341,"u":0.224,"d":0.096},{"p":"Sch100","c":0.429,"u":0.259,"d":0.176},{"p":"Sch100","c":0.307,"u":0.197,"d":0.107},
{"p":"Sch100","c":0.372,"u":0.239,"d":0.066},{"p":"Sch100","c":0.355,"u":0.247,"d":0.141},{"p":"Sch100","c":0.282,"u":0.214,"d":0.087},{"p":"Sch100","c":0.396,"u":0.279,"d":0.117},{"p":"Sch100","c":0.327,"u":0.231,"d":0.198},{"p":"Sch100","c":0.359,"u":0.186,"d":0.081},{"p":"Sch100","c":0.447,"u":0.25,"d":0.128},{"p":"Sch100","c":0.312,"u":0.221,"d":0.098},{"p":"Sch100","c":0.346,"u":0.262,"d":0.163},{"p":"Sch100","c":0.268,"u":0.203,"d":0.071},
{"p":"Sch100","c":0.379,"u":0.24,"d":0.119},{"p":"Sch100","c":0.337,"u":0.229,"d":0.094},{"p":"Sch100","c":0.418,"u":0.29,"d":0.149},{"p":"Sch100","c":0.3,"u":0.217,"d":0.056},{"p":"Sch100","c":0.356,"u":0.245,"d":0.13},{"p":"Sch100","c":0.472,"u":0.175,"d":0.104},{"p":"Sch100","c":0.322,"u":0.233,"d":0.187},{"p":"Sch100","c":0.367,"u":0.256,"d":0.084},{"p":"Sch100","c":0.276,"u":0.211,"d":0.114},{"p":"Sch100","c":0.344,"u":0.237,"d":0.045},
{"p":"Sch100","c":0.403,"u":0.225,"d":0.137},{"p":"Sch100","c":0.331,"u":0.271,"d":0.097},{"p":"Sch100","c":0.259,"u":0.199,"d":0.214},{"p":"Sch100","c":0.375,"u":0.248,"d":0.075},{"p":"Sch100","c":0.348,"u":0.22,"d":0.124},{"p":"Sch100","c":0.436,"u":0.162,"d":0.102},{"p":"Sch100","c":0.304,"u":0.244,"d":0.17},{"p":"Sch100","c":0.361,"u":0.23,"d":0.061},{"p":"Sch100","c":0.479,"u":0.26,"d":0.118},{"p":"Sch100","c":0.325,"u":0.206,"d":0.236},
{"p":"Sch100","c":0.238,"u":0.235,"d":0.089},{"p":"Sch100","c":0.39,"u":0.251,"d":0.126},{"p":"Sch100","c":0.339,"u":0.216,"d":0.032},{"p":"Sch100","c":0.287,"u":0.284,"d":0.109},{"p":"Sch100","c":0.357,"u":0.227,"d":0.145},{"p":"Sch100","c":0.413,"u":0.146,"d":0.095},{"p":"Sch100","c":0.32,"u":0.246,"d":0.181},{"p":"Sch100","c":0.221,"u":0.223,"d":0.052},{"p":"Sch100","c":0.382,"u":0.255,"d":0.122},{"p":"Sch100","c":0.345,"u":0.212,"d":0.101},
{"p":"Sch100","c":0.334,"u":0.232,"d":0.113},{"p":"Sch100","c":0.369,"u":0.263,"d":0.086},{"p":"Sch100","c":0.297,"u":0.204,"d":0.153},{"p":"Sch100","c":0.399,"u":0.241,"d":0.069},{"p":"Sch100","c":0.315,"u":0.226,"d":0.131},{"p":"Sch100","c":0.353,"u":0.275,"d":0.106},{"p":"Sch100","c":0.273,"u":0.193,"d":0.192},{"p":"Sch100","c":0.441,"u":0.238,"d":0.079},{"p":"Sch100","c":0.338,"u":0.218,"d":0.116},{"p":"Sch100","c":0.377,"u":0.257,"d":0.04},
{"p":"Sch100","c":0.291,"u":0.209,"d":0.14},{"p":"Sch100","c":0.393,"u":0.234,"d":0.099},{"p":"Sch100","c":0.329,"u":0.168,"d":0.262},{"p":"Sch100","c":0.349,"u":0.249,"d":0.083},{"p":"Sch100","c":0.508,"u":0.222,"d":0.127},{"p":"Sch100","c":0.41,"u":0.268,"d":0.105},{"p":"Sch100","c":0.332,"u":0.201,"d":0.168},{"p":"Sch100","c":0.362,"u":0.236,"d":0.063},{"p":"Sch100","c":0.285,"u":0.228,"d":0.12},{"p":"Sch100","c":0.424,"u":0.254,"d":0.268},
{"p":"Sch100","c":0.343,"u":0.181,"d":0.09},{"p":"Sch100","c":0.384,"u":0.242,"d":0.129},{"p":"Sch100","c":0.309,"u":0.215,"d":0.023},{"p":"Sch100","c":0.354,"u":0.286,"d":0.11},{"p":"Sch100","c":0.458,"u":0.231,"d":0.158},{"p":"Sch100","c":0.323,"u":0.155,"d":0.093},{"p":"Sch100","c":0.371,"u":0.247,"d":0.2},{"p":"Sch100","c":0.248,"u":0.221,"d":0.017},{"p":"Sch100","c":0.358,"u":0.258,"d":0.123},{"p":"Sch100","c":0.336,"u":0.207,"d":0.103},
{"p":"Sch200","c":0.377,"u":0.257,"d":0.115},{"p":"Sch200","c":0.348,"u":0.241,"d":0.098},{"p":"Sch200","c":0.405,"u":0.272,"d":0.134},{"p":"Sch200","c":0.362,"u":0.249,"d":0.106},{"p":"Sch200","c":0.43,"u":0.284,"d":0.154},{"p":"Sch200","c":0.324,"u":0.231,"d":0.086},{"p":"Sch200","c":0.39,"u":0.263,"d":0.125},{"p":"Sch200","c":0.369,"u":0.245,"d":0.102},{"p":"Sch200","c":0.452,"u":0.278,"d":0.172},{"p":"Sch200","c":0.337,"u":0.221,"d":0.112},
{"p":"Sch200","c":0.398,"u":0.259,"d":0.075},{"p":"Sch200","c":0.381,"u":0.267,"d":0.141},{"p":"Sch200","c":0.309,"u":0.236,"d":0.093},{"p":"Sch200","c":0.419,"u":0.29,"d":0.121},{"p":"Sch200","c":0.355,"u":0.252,"d":0.193},{"p":"Sch200","c":0.372,"u":0.212,"d":0.089},{"p":"Sch200","c":0.466,"u":0.27,"d":0.13},{"p":"Sch200","c":0.343,"u":0.243,"d":0.104},{"p":"Sch200","c":0.387,"u":0.281,"d":0.161},{"p":"Sch200","c":0.3,"u":0.227,"d":0.079},
{"p":"Sch200","c":0.401,"u":0.261,"d":0.123},{"p":"Sch200","c":0.365,"u":0.25,"d":0.1},{"p":"Sch200","c":0.443,"u":0.295,"d":0.148},{"p":"Sch200","c":0.33,"u":0.239,"d":0.066},{"p":"Sch200","c":0.379,"u":0.265,"d":0.132},{"p":"Sch200","c":0.479,"u":0.203,"d":0.11},{"p":"Sch200","c":0.351,"u":0.254,"d":0.183},{"p":"Sch200","c":0.394,"u":0.275,"d":0.091},{"p":"Sch200","c":0.292,"u":0.233,"d":0.118},{"p":"Sch200","c":0.368,"u":0.258,"d":0.056},
{"p":"Sch200","c":0.425,"u":0.247,"d":0.138},{"p":"Sch200","c":0.358,"u":0.287,"d":0.103},{"p":"Sch200","c":0.28,"u":0.224,"d":0.212},{"p":"Sch200","c":0.408,"u":0.268,"d":0.084},{"p":"Sch200","c":0.374,"u":0.242,"d":0.127},{"p":"Sch200","c":0.447,"u":0.192,"d":0.108},{"p":"Sch200","c":0.333,"u":0.264,"d":0.167},{"p":"Sch200","c":0.384,"u":0.251,"d":0.071},{"p":"Sch200","c":0.491,"u":0.279,"d":0.122},{"p":"Sch200","c":0.353,"u":0.229,"d":0.232},
{"p":"Sch200","c":0.316,"u":0.256,"d":0.095},{"p":"Sch200","c":0.413,"u":0.271,"d":0.129},{"p":"Sch200","c":0.367,"u":0.237,"d":0.042},{"p":"Sch200","c":0.303,"u":0.292,"d":0.114},{"p":"Sch200","c":0.385,"u":0.248,"d":0.145},{"p":"Sch200","c":0.436,"u":0.185,"d":0.101},{"p":"Sch200","c":0.342,"u":0.266,"d":0.178},{"p":"Sch200","c":0.459,"u":0.244,"d":0.062},{"p":"Sch200","c":0.391,"u":0.274,"d":0.126},{"p":"Sch200","c":0.371,"u":0.234,"d":0.107},
{"p":"Sch200","c":0.36,"u":0.253,"d":0.117},{"p":"Sch200","c":0.4,"u":0.282,"d":0.092},{"p":"Sch200","c":0.327,"u":0.226,"d":0.151},{"p":"Sch200","c":0.421,"u":0.262,"d":0.077},{"p":"Sch200","c":0.345,"u":0.246,"d":0.133},{"p":"Sch200","c":0.382,"u":0.288,"d":0.111},{"p":"Sch200","c":0.306,"u":0.218,"d":0.188},{"p":"Sch200","c":0.455,"u":0.26,"d":0.087},{"p":"Sch200","c":0.364,"u":0.24,"d":0.12},{"p":"Sch200","c":0.392,"u":0.276,"d":0.05},
{"p":"Sch200","c":0.319,"u":0.232,"d":0.14},{"p":"Sch200","c":0.411,"u":0.255,"d":0.105},{"p":"Sch200","c":0.35,"u":0.207,"d":0.244},{"p":"Sch200","c":0.375,"u":0.269,"d":0.09},{"p":"Sch200","c":0.265,"u":0.244,"d":0.128},{"p":"Sch200","c":0.428,"u":0.285,"d":0.109},{"p":"Sch200","c":0.357,"u":0.228,"d":0.164},{"p":"Sch200","c":0.389,"u":0.257,"d":0.069},{"p":"Sch200","c":0.312,"u":0.25,"d":0.119},{"p":"Sch200","c":0.485,"u":0.273,"d":0.025},
{"p":"Sch200","c":0.37,"u":0.215,"d":0.097},{"p":"Sch200","c":0.403,"u":0.263,"d":0.131},{"p":"Sch200","c":0.335,"u":0.238,"d":0.037},{"p":"Sch200","c":0.376,"u":0.293,"d":0.116},{"p":"Sch200","c":0.47,"u":0.253,"d":0.157},{"p":"Sch200","c":0.346,"u":0.198,"d":0.099},{"p":"Sch200","c":0.395,"u":0.267,"d":0.203},{"p":"Sch200","c":0.286,"u":0.242,"d":0.058},{"p":"Sch200","c":0.38,"u":0.277,"d":0.124},{"p":"Sch200","c":0.363,"u":0.235,"d":0.113},
{"p":"Sch400","c":0.388,"u":0.269,"d":0.116},{"p":"Sch400","c":0.359,"u":0.252,"d":0.1},{"p":"Sch400","c":0.417,"u":0.285,"d":0.135},{"p":"Sch400","c":0.373,"u":0.261,"d":0.108},{"p":"Sch400","c":0.441,"u":0.298,"d":0.153},{"p":"Sch400","c":0.335,"u":0.242,"d":0.089},{"p":"Sch400","c":0.401,"u":0.276,"d":0.126},{"p":"Sch400","c":0.38,"u":0.257,"d":0.104},{"p":"Sch400","c":0.463,"u":0.291,"d":0.17},{"p":"Sch400","c":0.348,"u":0.232,"d":0.113},
{"p":"Sch400","c":0.409,"u":0.272,"d":0.079},{"p":"Sch400","c":0.392,"u":0.28,"d":0.142},{"p":"Sch400","c":0.32,"u":0.247,"d":0.095},{"p":"Sch400","c":0.43,"u":0.308,"d":0.122},{"p":"Sch400","c":0.366,"u":0.264,"d":0.19},{"p":"Sch400","c":0.383,"u":0.222,"d":0.091},{"p":"Sch400","c":0.478,"u":0.283,"d":0.131},{"p":"Sch400","c":0.354,"u":0.255,"d":0.106},{"p":"Sch400","c":0.398,"u":0.294,"d":0.16},{"p":"Sch400","c":0.311,"u":0.238,"d":0.082},
{"p":"Sch400","c":0.412,"u":0.274,"d":0.124},{"p":"Sch400","c":0.376,"u":0.262,"d":0.102},{"p":"Sch400","c":0.454,"u":0.317,"d":0.147},{"p":"Sch400","c":0.341,"u":0.25,"d":0.07},{"p":"Sch400","c":0.39,"u":0.278,"d":0.133},{"p":"Sch400","c":0.489,"u":0.212,"d":0.111},{"p":"Sch400","c":0.362,"u":0.267,"d":0.181},{"p":"Sch400","c":0.405,"u":0.288,"d":0.093},{"p":"Sch400","c":0.303,"u":0.245,"d":0.119},{"p":"Sch400","c":0.379,"u":0.27,"d":0.061},
{"p":"Sch400","c":0.436,"u":0.258,"d":0.139},{"p":"Sch400","c":0.369,"u":0.302,"d":0.105},{"p":"Sch400","c":0.291,"u":0.235,"d":0.219},{"p":"Sch400","c":0.419,"u":0.281,"d":0.087},{"p":"Sch400","c":0.385,"u":0.253,"d":0.128},{"p":"Sch400","c":0.458,"u":0.198,"d":0.11},{"p":"Sch400","c":0.344,"u":0.277,"d":0.165},{"p":"Sch400","c":0.395,"u":0.263,"d":0.074},{"p":"Sch400","c":0.505,"u":0.292,"d":0.123},{"p":"Sch400","c":0.364,"u":0.24,"d":0.233},
{"p":"Sch400","c":0.327,"u":0.268,"d":0.097},{"p":"Sch400","c":0.424,"u":0.284,"d":0.13},{"p":"Sch400","c":0.378,"u":0.249,"d":0.055},{"p":"Sch400","c":0.314,"u":0.313,"d":0.115},{"p":"Sch400","c":0.396,"u":0.26,"d":0.144},{"p":"Sch400","c":0.447,"u":0.187,"d":0.103},{"p":"Sch400","c":0.353,"u":0.279,"d":0.176},{"p":"Sch400","c":0.47,"u":0.256,"d":0.066},{"p":"Sch400","c":0.402,"u":0.287,"d":0.127},{"p":"Sch400","c":0.382,"u":0.246,"d":0.109},
{"p":"Sch400","c":0.371,"u":0.266,"d":0.118},{"p":"Sch400","c":0.411,"u":0.296,"d":0.094},{"p":"Sch400","c":0.338,"u":0.237,"d":0.15},{"p":"Sch400","c":0.432,"u":0.275,"d":0.081},{"p":"Sch400","c":0.356,"u":0.259,"d":0.134},{"p":"Sch400","c":0.393,"u":0.305,"d":0.112},{"p":"Sch400","c":0.317,"u":0.228,"d":0.186},{"p":"Sch400","c":0.466,"u":0.271,"d":0.088},{"p":"Sch400","c":0.375,"u":0.251,"d":0.121},{"p":"Sch400","c":0.403,"u":0.289,"d":0.058},
{"p":"Sch400","c":0.33,"u":0.243,"d":0.14},{"p":"Sch400","c":0.422,"u":0.267,"d":0.107},{"p":"Sch400","c":0.361,"u":0.216,"d":0.25},{"p":"Sch400","c":0.386,"u":0.282,"d":0.092},{"p":"Sch400","c":0.279,"u":0.254,"d":0.129},{"p":"Sch400","c":0.439,"u":0.3,"d":0.114},{"p":"Sch400","c":0.368,"u":0.239,"d":0.162},{"p":"Sch400","c":0.4,"u":0.27,"d":0.073},{"p":"Sch400","c":0.323,"u":0.262,"d":0.12},{"p":"Sch400","c":0.495,"u":0.286,"d":0.031},
{"p":"Sch400","c":0.381,"u":0.225,"d":0.099},{"p":"Sch400","c":0.414,"u":0.276,"d":0.132},{"p":"Sch400","c":0.346,"u":0.248,"d":0.064},{"p":"Sch400","c":0.387,"u":0.31,"d":0.117},{"p":"Sch400","c":0.481,"u":0.265,"d":0.156},{"p":"Sch400","c":0.357,"u":0.205,"d":0.101},{"p":"Sch400","c":0.406,"u":0.28,"d":0.2},{"p":"Sch400","c":0.297,"u":0.255,"d":0.077},{"p":"Sch400","c":0.391,"u":0.29,"d":0.125},{"p":"Sch400","c":0.374,"u":0.244,"d":0.112},
{"p":"Yeo","c":0.328,"u":0.222,"d":0.102},{"p":"Yeo","c":0.292,"u":0.205,"d":0.084},{"p":"Yeo","c":0.362,"u":0.239,"d":0.123},{"p":"Yeo","c":0.311,"u":0.213,"d":0.092},{"p":"Yeo","c":0.385,"u":0.252,"d":0.146},{"p":"Yeo","c":0.27,"u":0.194,"d":0.07},{"p":"Yeo","c":0.341,"u":0.229,"d":0.112},{"p":"Yeo","c":0.318,"u":0.209,"d":0.088},{"p":"Yeo","c":0.406,"u":0.245,"d":0.167},{"p":"Yeo","c":0.282,"u":0.183,"d":0.098},
{"p":"Yeo","c":0.351,"u":0.225,"d":0.059},{"p":"Yeo","c":0.333,"u":0.233,"d":0.131},{"p":"Yeo","c":0.256,"u":0.2,"d":0.079},{"p":"Yeo","c":0.373,"u":0.265,"d":0.107},{"p":"Yeo","c":0.303,"u":0.217,"d":0.189},{"p":"Yeo","c":0.337,"u":0.172,"d":0.073},{"p":"Yeo","c":0.428,"u":0.236,"d":0.118},{"p":"Yeo","c":0.288,"u":0.207,"d":0.09},{"p":"Yeo","c":0.323,"u":0.248,"d":0.154},{"p":"Yeo","c":0.243,"u":0.189,"d":0.064},
{"p":"Yeo","c":0.357,"u":0.226,"d":0.11},{"p":"Yeo","c":0.315,"u":0.215,"d":0.086},{"p":"Yeo","c":0.396,"u":0.286,"d":0.139},{"p":"Yeo","c":0.276,"u":0.203,"d":0.048},{"p":"Yeo","c":0.332,"u":0.231,"d":0.121},{"p":"Yeo","c":0.459,"u":0.161,"d":0.096},{"p":"Yeo","c":0.298,"u":0.219,"d":0.178},{"p":"Yeo","c":0.345,"u":0.242,"d":0.076},{"p":"Yeo","c":0.262,"u":0.197,"d":0.105},{"p":"Yeo","c":0.321,"u":0.223,"d":0.039},
{"p":"Yeo","c":0.38,"u":0.211,"d":0.128},{"p":"Yeo","c":0.307,"u":0.258,"d":0.089},{"p":"Yeo","c":0.225,"u":0.185,"d":0.212},{"p":"Yeo","c":0.368,"u":0.234,"d":0.068},{"p":"Yeo","c":0.326,"u":0.206,"d":0.115},{"p":"Yeo","c":0.414,"u":0.148,"d":0.094},{"p":"Yeo","c":0.285,"u":0.23,"d":0.16},{"p":"Yeo","c":0.347,"u":0.216,"d":0.054},{"p":"Yeo","c":0.486,"u":0.246,"d":0.109},{"p":"Yeo","c":0.301,"u":0.192,"d":0.226},
{"p":"Yeo","c":0.248,"u":0.221,"d":0.081},{"p":"Yeo","c":0.389,"u":0.237,"d":0.117},{"p":"Yeo","c":0.317,"u":0.202,"d":0.029},{"p":"Yeo","c":0.266,"u":0.273,"d":0.101},{"p":"Yeo","c":0.342,"u":0.212,"d":0.135},{"p":"Yeo","c":0.435,"u":0.136,"d":0.087},{"p":"Yeo","c":0.309,"u":0.232,"d":0.171},{"p":"Yeo","c":0.192,"u":0.208,"d":0.045},{"p":"Yeo","c":0.359,"u":0.241,"d":0.113},{"p":"Yeo","c":0.33,"u":0.198,"d":0.093},
{"p":"Yeo","c":0.314,"u":0.218,"d":0.104},{"p":"Yeo","c":0.354,"u":0.25,"d":0.078},{"p":"Yeo","c":0.279,"u":0.19,"d":0.142},{"p":"Yeo","c":0.376,"u":0.227,"d":0.062},{"p":"Yeo","c":0.296,"u":0.212,"d":0.122},{"p":"Yeo","c":0.336,"u":0.262,"d":0.097},{"p":"Yeo","c":0.253,"u":0.178,"d":0.183},{"p":"Yeo","c":0.42,"u":0.224,"d":0.071},{"p":"Yeo","c":0.319,"u":0.204,"d":0.108},{"p":"Yeo","c":0.364,"u":0.243,"d":0.035},
{"p":"Yeo","c":0.273,"u":0.195,"d":0.129},{"p":"Yeo","c":0.383,"u":0.22,"d":0.091},{"p":"Yeo","c":0.305,"u":0.155,"d":0.252},{"p":"Yeo","c":0.327,"u":0.235,"d":0.075},{"p":"Yeo","c":0.233,"u":0.21,"d":0.116},{"p":"Yeo","c":0.392,"u":0.255,"d":0.095},{"p":"Yeo","c":0.312,"u":0.187,"d":0.157},{"p":"Yeo","c":0.348,"u":0.222,"d":0.052},{"p":"Yeo","c":0.268,"u":0.214,"d":0.111},{"p":"Yeo","c":0.471,"u":0.24,"d":0.27},
{"p":"Yeo","c":0.324,"u":0.167,"d":0.083},{"p":"Yeo","c":0.37,"u":0.228,"d":0.119},{"p":"Yeo","c":0.29,"u":0.201,"d":0.018},{"p":"Yeo","c":0.335,"u":0.278,"d":0.1},{"p":"Yeo","c":0.445,"u":0.217,"d":0.148},{"p":"Yeo","c":0.299,"u":0.142,"d":0.085},{"p":"Yeo","c":0.355,"u":0.233,"d":0.295},{"p":"Yeo","c":0.238,"u":0.207,"d":0.025},{"p":"Yeo","c":0.339,"u":0.244,"d":0.114},{"p":"Yeo","c":0.313,"u":0.193,"d":0.092}
]
},
"hconcat":[
{
"title":{"text":"A","anchor":"start","frame":"bounds","fontSize":40,"dx":-5,"offset":-24},
"vconcat":[
{
"width":780,"height":497,
"title":{"text":"\u200b\u00a0SAMPLE 1","subtitle":"Stress by Parcellation: Constrained vs. Unconstrained MDS","anchor":"middle","frame":"group","fontSize":40,"subtitleFontSize":27,"subtitlePadding":24,"offset":7},
"encoding":{"x":{"field":"p","type":"nominal","title":null,"scale":{"type":"band","paddingInner":0,"paddingOuter":0.1,"domain":["Glasser","Gordon","NeuroSynth","Power","Sch100","Sch200","Sch400","Yeo"]},"axis":{"labelAngle":0,"labelOverlap":false}}},
"layer":[
{"data":{"name":"s1"},"transform":[{"window":[{"op":"row_number","as":"i"}],"groupby":["p"]}],
"mark":{"type":"point","size":49,"opacity":1,"strokeWidth":1},
"encoding":{"xOffset":{"field":"i","type":"nominal","scale":{"range":[37,58]}},
"y":{"field":"c","type":"quantitative","title":"Stress","scale":{"domain":[0.0772,0.5723],"nice":false,"zero":false},"axis":{"values":[0.1,0.2,0.3,0.4,0.5],"format":".1f"}},
"fill":{"datum":"Constrained MDS","title":null,"scale":{"domain":["Constrained MDS","Unconstrained MDS","Stress Difference"],"range":["#7d7d7d","rgba(236,236,236,0.45)","transparent"]}},
"stroke":{"datum":"Constrained MDS","title":null,"scale":{"domain":["Constrained MDS","Unconstrained MDS","Stress Difference"],"range":["#7d7d7d","#bababa","#20a196"]}},
"shape":{"datum":"Constrained MDS","title":null,"scale":{"domain":["Constrained MDS","Unconstrained MDS","Stress Difference"],"range":["circle","circle","M-2.1,0H-1.3M-0.8,0H0M0.5,0H1.3"]}}}},
{"data":{"name":"s1"},"transform":[{"window":[{"op":"row_number","as":"i"}],"groupby":["p"]}],
"mark":{"type":"point","size":45,"opacity":1,"strokeWidth":1},
"encoding":{"xOffset":{"field":"i","type":"nominal","scale":{"range":[37,58]}},
"y":{"field":"u","type":"quantitative","title":"Stress"},
"fill":{"datum":"Unconstrained MDS","title":null},
"stroke":{"datum":"Unconstrained MDS","title":null},
"shape":{"datum":"Unconstrained MDS","title":null}}},
{"data":{"name":"m1"},"mark":{"type":"rule","color":"#20a196","strokeDash":[6,4],"strokeWidth":2,"xOffset":-31,"opacity":1},
"encoding":{"y":{"field":"mc","type":"quantitative","title":"Stress"},"y2":{"field":"mu"}}},
{"data":{"name":"m1"},"mark":{"type":"tick","color":"#20a196","thickness":2,"size":11,"xOffset":-25.5,"opacity":1},
"encoding":{"y":{"field":"mc","type":"quantitative","title":"Stress"}}},
{"data":{"name":"m1"},"mark":{"type":"tick","color":"#20a196","thickness":2,"size":11,"xOffset":-25.5,"opacity":1},
"encoding":{"y":{"field":"mu","type":"quantitative","title":"Stress"}}},
{"data":{"name":"m1"},"mark":{"type":"point","filled":true,"color":"#000000","size":165,"opacity":1},
"encoding":{"y":{"field":"mc","type":"quantitative","title":"Stress"}}},
{"data":{"name":"m1"},"mark":{"type":"point","fill":"#9c9c9c","stroke":"#111111","strokeWidth":1.6,"size":80,"opacity":1},
"encoding":{"y":{"field":"mu","type":"quantitative","title":"Stress"}}}
]
},
{
"width":780,"height":497,
"title":{"text":"B","anchor":"start","frame":"group","dx":-59,"fontSize":36,"offset":-29},
"encoding":{"x":{"field":"p","type":"nominal","title":null,"scale":{"type":"band","paddingInner":0,"paddingOuter":0.1,"domain":["Glasser","Gordon","NeuroSynth","Power","Sch100","Sch200","Sch400","Yeo"]},"axis":{"labelAngle":0,"labelOverlap":false}}},
"layer":[
{"data":{"name":"s1"},"transform":[{"window":[{"op":"row_number","as":"i"}],"groupby":["p"]}],
"mark":{"type":"circle","size":45,"color":"#20a196","opacity":1},
"encoding":{"xOffset":{"field":"i","type":"nominal","scale":{"range":[42,53]}},
"y":{"field":"d","type":"quantitative","title":"Stress Difference (Const–Unconst)","scale":{"domain":[0.0064,0.3085],"nice":false,"zero":false},"axis":{"values":[0.1,0.2,0.3],"format":".1f"}}}},
{"data":{"name":"m1"},"mark":{"type":"circle","size":150,"color":"#000000","opacity":1},
"encoding":{"x":{"field":"p","type":"nominal","title":"Stress Difference by Parcellation","axis":{"orient":"top","labels":false,"ticks":false,"domain":false,"titleFontSize":27,"titleFontWeight":"bold","titleColor":"#000000","titlePadding":5}},
"y":{"field":"md","type":"quantitative","title":"Stress Difference (Const–Unconst)"}}}
],
"resolve":{"axis":{"x":"independent"}}
}
],
"spacing":97,
"bounds":"flush",
"resolve":{"scale":{"x":"independent","y":"independent","fill":"independent","stroke":"independent","shape":"independent","xOffset":"independent"}}
},
{
"width":1,"height":1274,
"data":{"values":[]},
"mark":{"type":"rule"},
"encoding":{},
"view":{"stroke":"#8a8a8a","strokeDash":[7,5],"strokeWidth":1.2,"fill":null}
},
{
"title":{"text":"C","anchor":"start","frame":"bounds","fontSize":40,"dx":0,"offset":-24},
"vconcat":[
{
"width":780,"height":497,
"title":{"text":"SAMPLE 2","subtitle":"Stress by Parcellation: Constrained vs. Unconstrained MDS","anchor":"middle","frame":"group","fontSize":40,"subtitleFontSize":27,"subtitlePadding":24,"offset":7},
"encoding":{"x":{"field":"p","type":"nominal","title":null,"scale":{"type":"band","paddingInner":0,"paddingOuter":0.1,"domain":["Glasser","Gordon","NeuroSynth","Power","Sch100","Sch200","Sch400","Yeo"]},"axis":{"labelAngle":0,"labelOverlap":false}}},
"layer":[
{"data":{"name":"s2"},"transform":[{"window":[{"op":"row_number","as":"i"}],"groupby":["p"]}],
"mark":{"type":"point","size":40,"opacity":1,"strokeWidth":1},
"encoding":{"xOffset":{"field":"i","type":"nominal","scale":{"range":[36,59]}},
"y":{"field":"c","type":"quantitative","title":"Stress","scale":{"domain":[0.0772,0.5723],"nice":false,"zero":false},"axis":{"values":[0.1,0.2,0.3,0.4,0.5],"format":".1f"}},
"fill":{"datum":"Constrained MDS","title":null,"scale":{"domain":["Constrained MDS","Unconstrained MDS","Stress Difference"],"range":["#7d7d7d","rgba(236,236,236,0.45)","transparent"]}},
"stroke":{"datum":"Constrained MDS","title":null,"scale":{"domain":["Constrained MDS","Unconstrained MDS","Stress Difference"],"range":["#7d7d7d","#bababa","#20a196"]}},
"shape":{"datum":"Constrained MDS","title":null,"scale":{"domain":["Constrained MDS","Unconstrained MDS","Stress Difference"],"range":["circle","circle","M-2.1,0H-1.3M-0.8,0H0M0.5,0H1.3"]}}}},
{"data":{"name":"s2"},"transform":[{"window":[{"op":"row_number","as":"i"}],"groupby":["p"]}],
"mark":{"type":"point","size":40,"opacity":1,"strokeWidth":1},
"encoding":{"xOffset":{"field":"i","type":"nominal","scale":{"range":[36,59]}},
"y":{"field":"u","type":"quantitative","title":"Stress"},
"fill":{"datum":"Unconstrained MDS","title":null},
"stroke":{"datum":"Unconstrained MDS","title":null},
"shape":{"datum":"Unconstrained MDS","title":null}}},
{"data":{"name":"m2"},"mark":{"type":"rule","color":"#20a196","strokeDash":[6,4],"strokeWidth":2,"xOffset":-31,"opacity":1},
"encoding":{"y":{"field":"mc","type":"quantitative","title":"Stress"},"y2":{"field":"mu"}}},
{"data":{"name":"m2"},"mark":{"type":"tick","color":"#20a196","thickness":2,"size":11,"xOffset":-25.5,"opacity":1},
"encoding":{"y":{"field":"mc","type":"quantitative","title":"Stress"}}},
{"data":{"name":"m2"},"mark":{"type":"tick","color":"#20a196","thickness":2,"size":11,"xOffset":-25.5,"opacity":1},
"encoding":{"y":{"field":"mu","type":"quantitative","title":"Stress"}}},
{"data":{"name":"m2"},"mark":{"type":"point","filled":true,"color":"#000000","size":165,"opacity":1},
"encoding":{"y":{"field":"mc","type":"quantitative","title":"Stress"}}},
{"data":{"name":"m2"},"mark":{"type":"point","fill":"#9c9c9c","stroke":"#111111","strokeWidth":1.6,"size":80,"opacity":1},
"encoding":{"y":{"field":"mu","type":"quantitative","title":"Stress"}}}
]
},
{
"width":780,"height":497,
"title":{"text":"D","anchor":"start","frame":"group","dx":-59,"fontSize":36,"offset":-29},
"encoding":{"x":{"field":"p","type":"nominal","title":null,"scale":{"type":"band","paddingInner":0,"paddingOuter":0.1,"domain":["Glasser","Gordon","NeuroSynth","Power","Sch100","Sch200","Sch400","Yeo"]},"axis":{"labelAngle":0,"labelOverlap":false}}},
"layer":[
{"data":{"name":"s2"},"transform":[{"window":[{"op":"row_number","as":"i"}],"groupby":["p"]}],
"mark":{"type":"circle","size":40,"color":"#20a196","opacity":1},
"encoding":{"xOffset":{"field":"i","type":"nominal","scale":{"range":[41,54]}},
"y":{"field":"d","type":"quantitative","title":"Stress Difference (Const–Unconst)","scale":{"domain":[-0.0007,0.3518],"nice":false,"zero":false},"axis":{"values":[0.1,0.2,0.3],"format":".1f"}}}},
{"data":{"name":"m2"},"mark":{"type":"circle","size":150,"color":"#000000","opacity":1},
"encoding":{"x":{"field":"p","type":"nominal","title":"Stress Difference by Parcellation","axis":{"orient":"top","labels":false,"ticks":false,"domain":false,"titleFontSize":27,"titleFontWeight":"bold","titleColor":"#000000","titlePadding":5}},
"y":{"field":"md","type":"quantitative","title":"Stress Difference (Const–Unconst)"}}}
],
"resolve":{"axis":{"x":"independent"}}
}
],
"spacing":97,
"bounds":"flush",
"resolve":{"scale":{"x":"independent","y":"independent","fill":"independent","stroke":"independent","shape":"independent","xOffset":"independent"}}
}
],
"config":{
"font":"Liberation Sans",
"view":{"fill":"#ffffff","stroke":"#5a5a5a","strokeWidth":1.6},
"axis":{"grid":false,"domain":false,"tickSize":4,"tickColor":"#333333","tickWidth":1.1,"labelFontSize":18,"labelColor":"#4d4d4d","labelPadding":3,"titleFontSize":22,"titleFontWeight":"normal","titleColor":"#000000","titlePadding":5},
"legend":{"orient":"bottom-left","offset":15,"padding":0,"labelFontSize":20,"labelColor":"#333333","labelLimit":0,"symbolSize":225,"symbolStrokeWidth":2,"rowPadding":4,"labelOffset":12,"symbolOffset":6},
"title":{"fontWeight":"bold","color":"#000000","subtitleColor":"#000000","subtitleFontWeight":"bold","subtitleFont":"Liberation Sans"}
}
}
